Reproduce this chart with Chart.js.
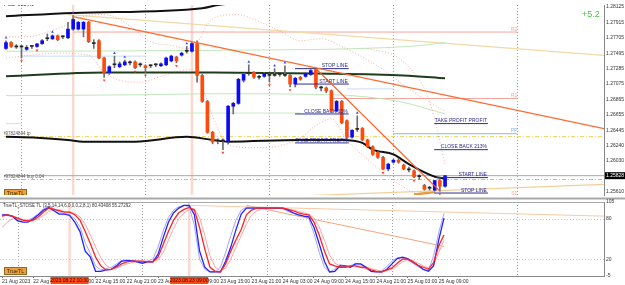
<!DOCTYPE html>
<html lang="en">
<head>
    <meta charset="UTF-8">
    <title>GBPUSD,H1</title>
    <script src="https://cdn.jsdelivr.net/npm/chart.js"></script>
    <style>
        html, body { margin: 0; padding: 0; background: #ffffff; }
        .wrap { position: relative; width: 625px; height: 285px; overflow: hidden; }
        #mainChart { position: absolute; left: 0; top: 0; }
        #subChart { position: absolute; left: 0; top: 197px; }
    </style>
</head>
<body>
<div class="wrap">
    <canvas id="mainChart" width="625" height="200"></canvas>
    <canvas id="subChart" width="625" height="88"></canvas>
</div>

<script>
    // H1 bars, 21 Aug 21:00 .. 25 Aug 09:00
    const opens = [1.27560,1.27639,1.27580,1.27580,1.27547,1.27587,1.27587,1.27626,1.27692,1.27692,
        1.27731,1.27718,1.27705,1.27823,1.27823,1.27823,1.27915,1.27626,1.27665,1.27429,
        1.27232,1.27337,1.27311,1.27337,1.27364,1.27377,1.27337,1.27324,1.27324,1.27337,
        1.27324,1.27337,1.27390,1.27442,1.27469,1.27521,1.27521,1.27626,1.27193,1.26839,
        1.26418,1.26300,1.26300,1.26287,1.26773,1.26812,1.27127,1.27219,1.27232,1.27167,
        1.27180,1.27193,1.27193,1.27206,1.27193,1.27193,1.27075,1.27167,1.27180,1.27206,
        1.27272,1.27022,1.27022,1.26983,1.26707,1.26839,1.26576,1.26353,1.26458,1.26471,
        1.26314,1.26222,1.26143,1.26077,1.25920,1.26012,1.26038,1.25972,1.25907,1.25894,
        1.25815,1.25697,1.25657,1.25631,1.25762,1.25684];
    const highs = [1.27665,1.27652,1.27613,1.27600,1.27600,1.27600,1.27626,1.27679,1.27757,1.27744,
        1.27744,1.27731,1.27915,1.28007,1.27928,1.27928,1.27928,1.27679,1.27679,1.27442,
        1.27324,1.27455,1.27377,1.27403,1.27390,1.27390,1.27364,1.27337,1.27337,1.27350,
        1.27364,1.27442,1.27469,1.27455,1.27508,1.27587,1.27639,1.27665,1.27206,1.26852,
        1.26431,1.26330,1.26330,1.26786,1.26826,1.27153,1.27219,1.27337,1.27245,1.27193,
        1.27232,1.27219,1.27285,1.27219,1.27324,1.27206,1.27167,1.27180,1.27232,1.27272,
        1.27298,1.27048,1.27035,1.26996,1.26852,1.26852,1.26589,1.26457,1.26642,1.26484,
        1.26327,1.26235,1.26156,1.26090,1.25998,1.26051,1.26064,1.25985,1.25946,1.25907,
        1.25841,1.25710,1.25684,1.25762,1.25775,1.25828];
    const lows = [1.27547,1.27574,1.27560,1.27429,1.27534,1.27560,1.27574,1.27613,1.27665,1.27679,
        1.27665,1.27692,1.27692,1.27810,1.27810,1.27718,1.27639,1.27560,1.27416,1.27167,
        1.27206,1.27298,1.27298,1.27324,1.27337,1.27285,1.27311,1.27232,1.27298,1.27311,
        1.27311,1.27324,1.27377,1.27364,1.27455,1.27495,1.27508,1.27101,1.26826,1.26405,
        1.26261,1.26261,1.26182,1.26261,1.26668,1.26799,1.27101,1.27193,1.27153,1.27140,
        1.27167,1.27101,1.27180,1.27180,1.27180,1.27035,1.27035,1.27127,1.27167,1.27193,
        1.27009,1.26983,1.26957,1.26694,1.26694,1.26537,1.26340,1.26340,1.26431,1.26300,
        1.26209,1.26104,1.26064,1.25907,1.25894,1.25998,1.25998,1.25907,1.25880,1.25802,
        1.25776,1.25631,1.25631,1.25618,1.25618,1.25671];
    const closes = [1.27639,1.27587,1.27580,1.27580,1.27574,1.27587,1.27622,1.27665,1.27692,1.27731,
        1.27679,1.27718,1.27823,1.27954,1.27915,1.27915,1.27652,1.27626,1.27429,1.27232,
        1.27311,1.27337,1.27350,1.27377,1.27364,1.27298,1.27337,1.27298,1.27324,1.27337,
        1.27350,1.27429,1.27455,1.27390,1.27495,1.27521,1.27626,1.27193,1.26839,1.26418,
        1.26287,1.26300,1.26300,1.26773,1.26812,1.27140,1.27206,1.27219,1.27167,1.27167,
        1.27219,1.27193,1.27193,1.27206,1.27193,1.27075,1.27153,1.27140,1.27219,1.27259,
        1.27035,1.27022,1.26983,1.26707,1.26839,1.26550,1.26353,1.26445,1.26458,1.26314,
        1.26222,1.26117,1.26077,1.25920,1.25985,1.26038,1.26012,1.25920,1.25907,1.25815,
        1.25815,1.25644,1.25657,1.25762,1.25684,1.25828];

    // stochastic panel
    const stochK = [86,86,84,77,75,75,80,86,93,97, 92,87,87,85,75,61,32,23,2,2,
        4,5,10,17,18,18,16,14,16,16, 27,52,75,89,96,100,100,86,32,8,
        1,1,1,17,38,64,87,96,96,96, 96,96,96,96,96,93,89,86,84,83,
        67,43,17,1,2,10,10,8,13,13, 8,2,1,1,5,13,21,23,21,16,
        11,5,2,10,49,81];
    const stochD = [84,86,84,81,78,77,78,83,90,96, 94,92,90,90,86,78,61,43,23,10,
        4,5,8,13,16,17,17,17,16,16, 23,42,61,78,89,94,97,93,67,35,
        8,2,1,13,32,49,64,86,93,96, 96,96,96,96,96,94,92,89,87,86,
        75,56,32,13,10,8,8,10,10,8, 7,4,2,1,4,7,14,20,20,16,
        11,8,5,15,40,56];
    const stochKSlow = [85,85,83,79,77,78,82,88,95,99, 95,90,88,86,80,68,45,28,10,4,
        6,8,13,18,19,18,17,16,17,20, 38,62,82,93,98,100,98,70,20,5,
        1,1,8,30,55,78,93,97,97,97, 97,97,97,97,95,91,88,86,85,80,
        58,30,8,1,5,12,10,10,14,12, 6,2,1,3,9,17,22,22,19,14,
        9,4,3,25,60,88];
    const stochDSlow = [67,75,80,80,79,78,78,80,85,91, 94,93,91,90,88,83,72,56,38,22,
        11,6,7,10,13,15,16,17,17,17, 19,30,48,66,80,89,94,95,82,55,
        25,8,3,7,20,38,55,72,86,92, 95,96,96,96,96,95,93,91,89,87,
        81,68,48,26,14,10,9,9,10,10, 9,6,4,2,3,5,10,16,19,18,
        14,10,7,12,30,48];
    const stochLevels = [80, 20];
    const stochTicks = [105, 80, 20, -5];

    const priceTicks = [1.28125, 1.27915, 1.27705, 1.27495, 1.27285, 1.27075, 1.26865,
        1.26655, 1.26445, 1.26240, 1.26030, 1.25610];
    const timeTickIdx = [0, 6, 12, 18, 24, 30, 36, 42, 48, 54, 60, 66, 72, 78, 84];
    const timeLabels = ['21 Aug 2023', '22 Aug 03:00', '22 Aug 09:00', '22 Aug 15:00', '22 Aug 21:00',
        '23 Aug 03:00', '23 Aug 09:00', '23 Aug 15:00', '23 Aug 21:00', '24 Aug 03:00', '24 Aug 09:00',
        '24 Aug 15:00', '24 Aug 21:00', '25 Aug 03:00', '25 Aug 09:00'];
    const dayStarts = [3, 27, 51, 75, 99];
    const markerBars = [13, 36];
    const markerText = ['2023.08.22 10:00', '2023.08.23 09:00'];
    const fractalUp = [0, 9, 13, 21, 23, 35, 47, 52, 54, 68];
    const fractalDown = [3, 6, 19, 25, 27, 33, 42, 51, 55, 73, 79, 84];

    const X_MIN = -0.385, X_MAX = 115.77;

    // indicator lines, [bar, price]
    const maTop = [[0, 1.27998], [13, 1.28042], [38, 1.28108], [41, 1.28151], [46, 1.28190]];
    const maGreen = [[0, 1.27180], [19, 1.27232], [40, 1.27232], [60, 1.27219], [77, 1.27193], [85, 1.27153]];
    const maLower = [[0, 1.26357], [6, 1.26344], [12, 1.26314], [15, 1.26291], [25, 1.26291], [35, 1.26357],
        [40, 1.26314], [43, 1.26291], [57, 1.26314], [65, 1.26314], [69, 1.26274], [71, 1.26182],
        [75, 1.26117], [78, 1.25985], [83, 1.25815], [85, 1.25789]];
    const envHi = [[0, 1.27521], [40, 1.27534], [78, 1.27587], [85, 1.27639]];
    const envLo = [[0, 1.26917], [27, 1.26930], [40, 1.26943], [63, 1.26930], [76, 1.26839], [85, 1.26668]];
    const bandHi = [[0, 1.27718], [4, 1.27718], [8, 1.27783], [12, 1.27889], [15, 1.27994], [18, 1.28020],
        [21, 1.27994], [24, 1.27862], [28, 1.27652], [32, 1.27600], [35, 1.27560], [37, 1.27626],
        [38, 1.27757], [39, 1.27889], [41, 1.27994], [45, 1.28020], [48, 1.27954], [53, 1.27797],
        [57, 1.27665], [61, 1.27692], [65, 1.27587], [73, 1.27272], [78, 1.27009], [85, 1.26707]];
    const bandLo = [[0, 1.27429], [5, 1.27469], [10, 1.27495], [16, 1.27469], [19, 1.27232], [22, 1.27127],
        [26, 1.27101], [30, 1.27180], [34, 1.27259], [36, 1.27272], [38, 1.27035], [40, 1.26642],
        [43, 1.26248], [48, 1.26209], [53, 1.26235], [57, 1.26340], [60, 1.26510], [63, 1.26602],
        [66, 1.26314], [70, 1.26051], [75, 1.25762], [80, 1.25552]];
    const bandFast = [[70, 1.27560], [76.5, 1.27403], [82, 1.26839], [85, 1.25985]];

    const trendMain = [[13, 1.27994], [X_MAX, 1.26468]];
    const trendSteep = [[60, 1.27285], [84, 1.25618]];
    const trendTan = [[12, 1.28020], [X_MAX, 1.27465]];
    const trendBottom = [[57, 1.25552], [X_MAX, 1.25710]];
    const trendBottomShort = [[79, 1.25572], [83, 1.25605]];
    const subTrendA = [[36, 100], [X_MAX, 84]];
    const subTrendB = [[47, 100], [85, 39]];

    // [label, fromBar, toBar, price]
    const eaLevels = [
        ['STOP LINE', 55.96, 66.35, 1.27285],
        ['START LINE', 55.96, 66.35, 1.27075],
        ['CLOSE BACK 15%', 55.96, 66.35, 1.26668],
        ['TAKE PROFIT PROFIT', 55.96, 66.35, 1.26274],
        ['TAKE PROFIT PROFIT', 82.9, 93.3, 1.26537],
        ['CLOSE BACK 213%', 82.9, 93.3, 1.26182],
        ['START LINE', 82.9, 93.3, 1.25802],
        ['STOP LINE', 82.9, 93.3, 1.25592]
    ];
    const pivotLevels = [
        ['R2', 13, 99, 1.27783, '#f3a49c'],
        ['R1', 63, 99, 1.26878, '#f3a49c'],
        ['PP', 75, 99, 1.26399, '#8fb6e6']
    ];
    const oldPivots = [[3, 27, 1.27455, '#c9dcf2'], [66, 75, 1.27009, '#c9dcf2'],
        [27, 57, 1.26681, '#c8ecc4'], [0, 3, 1.26537, '#c8ecc4']];
    const orderTp = 1.26359;
    const orderOpen = 1.25776;
    const stochTitle = 'TrueTL_STOSE TL (3,5,14,14,6,0,0,0,2,8,1) 80.43408 55.27292';

    const FONT = "'Liberation Sans', Arial, sans-serif";
    const BULL = '#0a0af5';
    const BEAR = '#ff4a0c';
    const last = closes.length - 1;

    function hline(ctx, x1, y1, x2, y2) {
        ctx.beginPath(); ctx.moveTo(x1, y1); ctx.lineTo(x2, y2); ctx.stroke();
    }

    function text(ctx, s, x, y, opt) {
        ctx.font = (opt.size || 5) + 'px ' + FONT;
        ctx.fillStyle = opt.color || '#333';
        ctx.textAlign = opt.align || 'left';
        ctx.textBaseline = opt.base || 'alphabetic';
        ctx.fillText(s, x, y);
    }

    function button(ctx, x0, y0, w, h) {
        ctx.fillStyle = '#eba23c';
        ctx.fillRect(x0, y0, w, h);
        ctx.strokeStyle = '#98661c';
        ctx.lineWidth = 1;
        ctx.strokeRect(x0 + 0.5, y0 + 0.5, w - 1, h - 1);
        text(ctx, 'TrueTL', x0 + w / 2, y0 + h / 2 + 0.5, { color: '#3a2a10', align: 'center', base: 'middle', size: 5.5 });
    }

    function drawVerticals(chart) {
        const { ctx, chartArea: a, scales: { x } } = chart;
        ctx.save();
        ctx.strokeStyle = '#a0a0a0';
        ctx.lineWidth = 1;
        ctx.setLineDash([1, 2]);
        dayStarts.forEach(i => {
            const px = Math.round(x.getPixelForValue(i)) + 0.5;
            hline(ctx, px, a.top, px, a.bottom);
        });
        ctx.setLineDash([]);
        ctx.strokeStyle = 'rgba(248,140,120,0.35)';
        ctx.lineWidth = 2.5;
        markerBars.forEach(i => {
            const px = x.getPixelForValue(i);
            hline(ctx, px, a.top, px, a.bottom);
        });
        ctx.restore();
    }

    function lineSet(points, color, width, extra) {
        return Object.assign({
            type: 'line',
            data: points.map(([x, y]) => ({ x, y })),
            borderColor: color,
            borderWidth: width,
            pointRadius: 0,
            fill: false,
            order: 3
        }, extra || {});
    }

    const smooth = { cubicInterpolationMode: 'monotone' };
    const dotted = { borderDash: [1, 2], cubicInterpolationMode: 'monotone', order: 4 };

    const bars = opens.map((o, i) => i);
    const candleColor = i => closes[i] > opens[i] ? BULL : (closes[i] < opens[i] ? BEAR : '#222');

    const mainSets = [
        lineSet(bandHi, 'rgba(240,120,120,0.6)', 1, dotted),
        lineSet(bandLo, 'rgba(240,120,120,0.6)', 1, dotted),
        lineSet(bandFast, 'rgba(240,120,120,0.6)', 1, dotted),
        lineSet(envHi, '#bfe6bb', 1, Object.assign({ order: 4 }, smooth)),
        lineSet(envLo, '#bfe6bb', 1, Object.assign({ order: 4 }, smooth)),
        lineSet(trendTan, '#f2d9a6', 1.2, { order: 4 }),
        lineSet(trendBottom, '#f3cf98', 1.2, { order: 4 }),
        lineSet(trendBottomShort, '#e99a3c', 2.5, { order: 4 }),
        lineSet([[X_MIN, orderTp], [X_MAX, orderTp]], '#f0d050', 1, { borderDash: [4, 2, 1, 2], order: 4 }),
        lineSet([[X_MIN, orderOpen], [X_MAX, orderOpen]], '#9cc2ea', 1, { borderDash: [4, 2, 1, 2], order: 4 }),
        lineSet([[X_MIN, closes[last]], [X_MAX, closes[last]]], '#a8a8a8', 1, { order: 4 }),
        lineSet(maTop, '#111111', 2, smooth),
        lineSet(maGreen, '#1d3d1d', 2, smooth),
        lineSet(maLower, '#111111', 2, smooth),
        {
            type: 'bar',
            data: bars.map(i => ({ x: i, y: [lows[i], highs[i]] })),
            backgroundColor: '#6e6e6e',
            barThickness: 1,
            grouped: false,
            order: 2
        },
        {
            type: 'bar',
            data: bars.map(i => ({ x: i, y: [Math.min(opens[i], closes[i]), Math.max(opens[i], closes[i])] })),
            backgroundColor: c => candleColor(c.dataIndex),
            barThickness: 3,
            minBarLength: 1,
            grouped: false,
            order: 1
        },
        {
            type: 'scatter',
            data: fractalUp.map(i => ({ x: i, y: highs[i] + 0.0004 })),
            pointStyle: 'triangle', pointRadius: 1.6,
            backgroundColor: '#3a46ff', borderColor: '#3a46ff', borderWidth: 0,
            order: 0
        },
        {
            type: 'scatter',
            data: fractalDown.map(i => ({ x: i, y: lows[i] - 0.0004 })),
            pointStyle: 'triangle', rotation: 180, pointRadius: 1.6,
            backgroundColor: '#ff3a20', borderColor: '#ff3a20', borderWidth: 0,
            order: 0
        },
        lineSet(trendMain, '#ff6a30', 1.3, { order: 0 }),
        lineSet(trendSteep, '#ff5a20', 1.3, { order: 0 })
    ];

    pivotLevels.forEach(([, from, to, price, color]) => {
        mainSets.push(lineSet([[from, price], [to, price]], color, 1, { order: 5 }));
    });
    oldPivots.forEach(([from, to, price, color]) => {
        mainSets.push(lineSet([[from, price], [to, price]], color, 1, { order: 5 }));
    });
    eaLevels.forEach(([, from, to, price]) => {
        mainSets.push(lineSet([[from, price], [to, price]], '#2e2e90', 1, { order: 0 }));
    });

    const mainOverlay = {
        id: 'mainOverlay',
        beforeDatasetsDraw(chart) {
            drawVerticals(chart);
        },
        afterDraw(chart) {
            const { ctx, chartArea: a, scales: { x, y } } = chart;
            ctx.save();
            ctx.beginPath();
            ctx.rect(a.left, a.top, a.width, a.height);
            ctx.clip();
            eaLevels.forEach(([label, , to, price]) => {
                text(ctx, label, x.getPixelForValue(to) - 1, y.getPixelForValue(price) - 1.2,
                    { color: '#2a2a8a', align: 'right', size: 5 });
            });
            pivotLevels.forEach(([label, , to, price, color]) => {
                text(ctx, label, x.getPixelForValue(to), y.getPixelForValue(price) - 1.5,
                    { color: color, align: 'right', size: 5 });
            });
            text(ctx, 'S1', x.getPixelForValue(99), a.bottom - 0.5, { color: '#f3a49c', align: 'right', size: 5 });
            text(ctx, '#97824844 tp', 3, y.getPixelForValue(orderTp) - 1.5, { color: '#555', size: 4.5 });
            text(ctx, '#97824844 buy 0.04', 3, y.getPixelForValue(orderOpen) - 1.5, { color: '#555', size: 4.5 });
            text(ctx, '\u25BC GBPUSD,H1', 2, 6, { color: '#222', size: 4.5 });
            text(ctx, '+5.2', 582, 17, { color: '#4cbf4c', size: 9 });
            button(ctx, 4, 189, 23, 8);
            ctx.restore();

            // current price box on the axis
            const py = y.getPixelForValue(closes[last]);
            ctx.fillStyle = '#000';
            ctx.fillRect(a.right + 1, py - 3.5, 20, 7);
            text(ctx, closes[last].toFixed(5), a.right + 2, py + 0.3, { color: '#fff', size: 5, base: 'middle' });

            // panel separator
            ctx.fillStyle = '#a8a8a8';
            ctx.fillRect(0, 197.5, 625, 2);
        }
    };

    Chart.defaults.font.family = FONT;

    new Chart(document.getElementById('mainChart'), {
        type: 'bar',
        data: { datasets: mainSets },
        options: {
            responsive: false,
            animation: false,
            layout: { padding: { left: 0, right: 0, top: 0, bottom: 3 } },
            plugins: { legend: { display: false }, tooltip: { enabled: false } },
            scales: {
                x: { type: 'linear', min: X_MIN, max: X_MAX, display: false, offset: false, bounds: 'data' },
                y: {
                    type: 'linear', position: 'right', min: 1.25565, max: 1.28151, bounds: 'data',
                    afterFit(s) { s.width = 21; },
                    afterBuildTicks(s) { s.ticks = priceTicks.map(v => ({ value: v })); },
                    ticks: {
                        autoSkip: false, padding: 2, color: '#333',
                        font: { size: 5 },
                        callback: v => v.toFixed(5)
                    },
                    grid: { display: false, drawTicks: false, tickLength: 0 },
                    border: { display: true, color: '#888', width: 1 }
                }
            }
        },
        plugins: [mainOverlay]
    });

    const subOverlay = {
        id: 'subOverlay',
        beforeDatasetsDraw(chart) {
            drawVerticals(chart);
            const { ctx, chartArea: a, scales: { y } } = chart;
            ctx.save();
            ctx.strokeStyle = '#c4c4c4';
            ctx.lineWidth = 1;
            ctx.setLineDash([1, 2]);
            stochLevels.forEach(v => {
                const py = Math.round(y.getPixelForValue(v)) + 0.5;
                hline(ctx, a.left, py, a.right, py);
            });
            ctx.restore();
        },
        afterDraw(chart) {
            const { ctx, chartArea: a, scales: { x } } = chart;
            ctx.save();
            ctx.strokeStyle = '#a8a8a8';
            ctx.lineWidth = 1;
            hline(ctx, a.left, a.top + 0.5, a.right, a.top + 0.5);
            text(ctx, stochTitle, 3, a.top + 4.5, { color: '#333', size: 4.5 });
            button(ctx, 4, a.top + 65, 23, 8);
            markerBars.forEach((i, k) => {
                const px = x.getPixelForValue(i);
                ctx.fillStyle = '#ff4814';
                ctx.fillRect(px - 19, a.bottom + 1, 38, 7);
                text(ctx, markerText[k], px, a.bottom + 4.8, { color: '#3a0800', align: 'center', base: 'middle', size: 5 });
            });
            ctx.restore();
        }
    };

    const stochSet = (vals, color, width, order) => ({
        type: 'line',
        data: vals.map((v, i) => ({ x: i, y: v })),
        borderColor: color,
        borderWidth: width,
        pointRadius: 0,
        fill: false,
        order: order
    });

    new Chart(document.getElementById('subChart'), {
        type: 'line',
        data: {
            datasets: [
                lineSet(subTrendA, '#f6cba6', 1, { order: 5 }),
                lineSet(subTrendB, '#f5a57a', 1, { order: 5 }),
                stochSet(stochKSlow, '#a4a4ff', 1, 4),
                stochSet(stochDSlow, '#ffa4a4', 1, 3),
                stochSet(stochK, '#2222ff', 1.3, 2),
                stochSet(stochD, '#ff2222', 1.3, 1)
            ]
        },
        options: {
            responsive: false,
            animation: false,
            layout: { padding: { left: 0, right: 0, top: 5, bottom: 0 } },
            plugins: { legend: { display: false }, tooltip: { enabled: false } },
            scales: {
                x: {
                    type: 'linear', min: X_MIN, max: X_MAX, position: 'bottom', bounds: 'data',
                    afterFit(s) { s.height = 9; },
                    afterBuildTicks(s) { s.ticks = timeTickIdx.map(v => ({ value: v })); },
                    ticks: {
                        autoSkip: false, maxRotation: 0, minRotation: 0, align: 'start', padding: 1,
                        color: '#333', font: { size: 5 },
                        callback: v => timeLabels[timeTickIdx.indexOf(v)]
                    },
                    grid: { display: true, drawOnChartArea: false, drawTicks: true, tickLength: 2, color: '#777' },
                    border: { display: true, color: '#888' }
                },
                y: {
                    type: 'linear', position: 'right', min: -5, max: 105, bounds: 'data',
                    afterFit(s) { s.width = 21; },
                    afterBuildTicks(s) { s.ticks = stochTicks.map(v => ({ value: v })); },
                    ticks: { autoSkip: false, padding: 2, color: '#333', font: { size: 5 }, callback: v => String(v) },
                    grid: { display: false, drawTicks: false, tickLength: 0 },
                    border: { display: true, color: '#888' }
                }
            }
        },
        plugins: [subOverlay]
    });
</script>
</body>
</html>
